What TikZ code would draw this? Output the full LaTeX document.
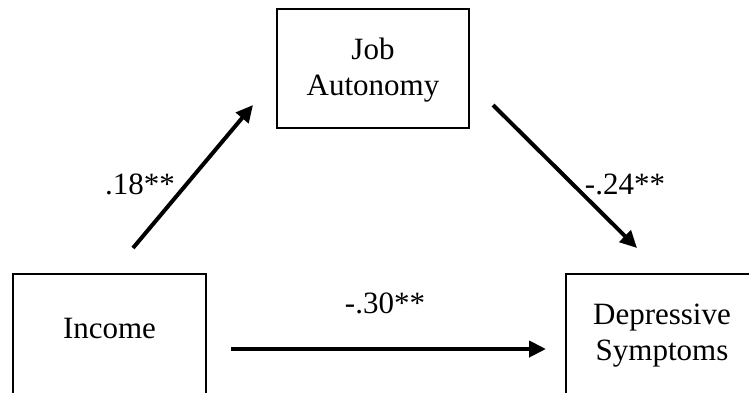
\documentclass[tikz,border=0pt]{standalone}
\usepackage{fontspec}
\setmainfont{Liberation Serif}
\usetikzlibrary{arrows.meta}
\begin{document}
\begin{tikzpicture}[x=1pt,y=-1pt,
  boxshape/.style={draw=black, line width=1.8pt, inner sep=0pt},
  txt/.style={font=\fontsize{31}{36}\selectfont, align=center, inner sep=0pt},
  lbl/.style={font=\fontsize{31}{36}\selectfont, inner sep=0pt},
  arr/.style={line width=4pt, -{Triangle[length=17pt,width=16pt]}}]
\useasboundingbox (0,0) rectangle (749,392);
\clip (0,0) rectangle (749,392);
% boxes
\node[boxshape, minimum width=192pt, minimum height=119pt] (job) at (373,68.5) {};
\node[boxshape, minimum width=193pt, minimum height=140pt, anchor=north] (inc) at (109.5,273) {};
\node[boxshape, minimum width=193pt, minimum height=140pt, anchor=north] (dep) at (662.5,273) {};
% texts
\node[txt] (jobt) at (373,70) {Job\\Autonomy};
\node[txt] (inct) at (109.5,328) {Income};
\node[txt] (dept) at (662,336) {Depressive\\Symptoms};
% connector end points
\coordinate (a1s) at (133,248);
\coordinate (a1e) at (253,105);
\coordinate (a2s) at (493,105);
\coordinate (a2e) at (637,248);
\coordinate (a3s) at (231,349);
\coordinate (a3e) at (546,349);
\draw[arr] (a1s) -- (a1e);
\draw[arr] (a2s) -- (a2e);
\draw[arr] (a3s) -- (a3e);
% labels
\node[lbl] (l1) at (140,184) {.18**};
\node[lbl] (l2) at (625,184) {-.24**};
\node[lbl] (l3) at (385,303) {-.30**};
\end{tikzpicture}
\end{document}
